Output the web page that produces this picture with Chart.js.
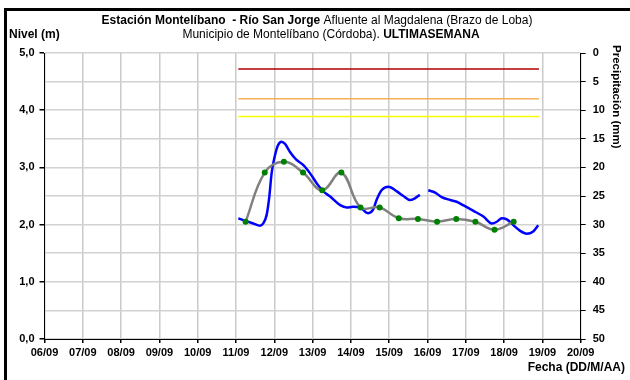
<!DOCTYPE html>
<html><head><meta charset="utf-8">
<script src="https://cdn.jsdelivr.net/npm/chart.js@4/dist/chart.umd.min.js"></script>
<style>html,body{margin:0;padding:0;background:#fff}#wrap{width:630px;height:380px;position:relative}canvas{display:block}</style>
</head><body><div id="wrap"><canvas id="c" width="630" height="380"></canvas></div>
<script>
// X values are days of September (06/09 .. 20/09)
const dayTicks = [6,7,8,9,10,11,12,13,14,15,16,17,18,19,20];
const levelTicks = [0,1,2,3,4,5];
const rainTicks = [0,5,10,15,20,25,30,35,40,45,50];

// Nivel (m) - blue series (null = gap in record)
const levelDays = [11.06,11.23,11.45,11.63,11.71,11.80,11.87,11.93,12.01,12.10,12.19,12.28,12.41,12.58,12.76,12.93,13.11,13.28,13.46,13.72,13.89,14.06,14.24,14.45,14.58,14.67,14.80,14.98,15.20,15.37,15.54,15.67,15.80,15.90,16.02,16.20,16.37,16.59,16.76,16.93,17.20,17.46,17.68,17.81,17.94,18.07,18.24,18.42,18.59,18.76,18.89];
const levelValues = [2.11,2.07,2.02,1.98,2.02,2.17,2.49,2.90,3.19,3.39,3.45,3.41,3.27,3.13,3.04,2.90,2.72,2.58,2.49,2.34,2.30,2.31,2.30,2.20,2.26,2.43,2.60,2.66,2.58,2.50,2.43,2.46,2.52,null,2.60,2.56,2.48,2.43,2.40,2.34,2.24,2.14,2.02,2.05,2.11,2.09,1.99,1.89,1.84,1.88,1.99];

// Lecturas (gray line, green markers)
const readDays = [11.25,11.75,12.25,12.75,13.25,13.75,14.25,14.75,15.25,15.75,16.25,16.75,17.25,17.75,18.25];
const readValues = [2.05,2.91,3.10,2.91,2.60,2.91,2.30,2.30,2.11,2.10,2.05,2.10,2.05,1.91,2.05];

// Umbrales
const thresholdDays = [11.06,18.91];
const thresholdRed = 4.72;
const thresholdOrange = 4.20;
const thresholdYellow = 3.89;

const pad2 = v => (v < 10 ? '0' : '') + v;
const pts = (xs, ys) => xs.map((x, i) => ({x: x, y: ys[i]}));
const FONT = "'Liberation Sans', Arial, sans-serif";

const decor = {
  id: 'decor',
  afterDraw(chart) {
    const ctx = chart.ctx;
    ctx.save();
    // outer frame (cropped at right/bottom)
    ctx.strokeStyle = '#000';
    ctx.lineWidth = 3;
    ctx.strokeRect(5.5, 9.5, 800, 600);
    ctx.fillStyle = '#000';
    ctx.textBaseline = 'middle';
    const drawMixed = (parts, cx, y, size) => {
      let total = 0;
      parts.forEach(p => { ctx.font = p[1] + ' ' + size + 'px ' + FONT; p.w = ctx.measureText(p[0]).width; total += p.w; });
      let x = cx - total / 2;
      ctx.textAlign = 'left';
      parts.forEach(p => { ctx.font = p[1] + ' ' + size + 'px ' + FONT; ctx.fillText(p[0], x, y); x += p.w; });
    };
    drawMixed([['Estación Montelíbano  - Río San Jorge', 'bold'], [' Afluente al Magdalena (Brazo de Loba)', 'normal']], 317, 21, 12);
    drawMixed([['Municipio de Montelíbano (Córdoba). ', 'normal'], ['ULTIMASEMANA', 'bold']], 331, 35, 12);
    ctx.font = 'bold 12px ' + FONT;
    ctx.textAlign = 'left';
    ctx.fillText('Nivel (m)', 9, 35);
    ctx.textAlign = 'right';
    ctx.fillText('Fecha (DD/M/AA)', 625, 368);
    // right axis title rotated
    ctx.font = 'bold 11.5px ' + FONT;
    ctx.translate(616, 45);
    ctx.rotate(Math.PI / 2);
    ctx.textAlign = 'left';
    ctx.fillText('Precipitación (mm)', 0, 0);
    ctx.restore();
  }
};

new Chart(document.getElementById('c'), {
  type: 'line',
  data: {
    datasets: [
      {data: pts(thresholdDays, [thresholdRed, thresholdRed]), borderColor: '#B00000', borderWidth: 1.5, pointRadius: 0, tension: 0, yAxisID: 'y', order: 5},
      {data: pts(thresholdDays, [thresholdOrange, thresholdOrange]), borderColor: '#F7B05A', borderWidth: 1.5, pointRadius: 0, tension: 0, yAxisID: 'y', order: 5},
      {data: pts(thresholdDays, [thresholdYellow, thresholdYellow]), borderColor: '#FFFF00', borderWidth: 1.5, pointRadius: 0, tension: 0, yAxisID: 'y', order: 5},
      {data: pts(levelDays, levelValues), borderColor: '#0000FF', borderWidth: 2.5, pointRadius: 0, cubicInterpolationMode: 'monotone', spanGaps: false, yAxisID: 'y', order: 3},
      {data: pts(readDays, readValues), borderColor: '#808080', borderWidth: 2.5, pointRadius: 3, pointBackgroundColor: '#008000', pointBorderColor: '#008000', pointBorderWidth: 0, tension: 0.4, yAxisID: 'y', order: 1}
    ]
  },
  options: {
    responsive: false,
    animation: false,
    devicePixelRatio: 1,
    layout: {padding: {top: 53, left: 0, right: 0, bottom: 0}},
    plugins: {legend: {display: false}, tooltip: {enabled: false}, title: {display: false}},
    scales: {
      x: {
        type: 'linear', min: dayTicks[0], max: dayTicks[dayTicks.length - 1], position: 'bottom',
        afterBuildTicks: s => { s.ticks = dayTicks.map(v => ({value: v})); },
        ticks: {callback: v => pad2(v) + '/09', autoSkip: false, maxRotation: 0, font: {family: FONT, size: 11, weight: 'bold'}, color: '#000', padding: 3},
        grid: {color: '#cacaca', lineWidth: 1.5, tickColor: '#000', tickLength: 4},
        border: {color: '#000', width: 1},
        afterFit: s => { s.height = 41; }
      },
      y: {
        position: 'left', min: 0, max: 5,
        afterBuildTicks: s => { const t = []; for (let i = 0; i <= 10; i++) t.push({value: i / 2}); s.ticks = t; },
        ticks: {callback: v => (levelTicks.includes(v) ? v.toFixed(1).replace('.', ',') : ''), autoSkip: false, font: {family: FONT, size: 11, weight: 'bold'}, color: '#000', padding: 5},
        grid: {color: '#d2d2d2', lineWidth: 1.5, tickColor: c => (levelTicks.includes(c.tick.value) ? '#000' : 'rgba(0,0,0,0)'), tickLength: 5},
        border: {color: '#000', width: 1},
        afterFit: s => { s.width = 44.5; }
      },
      y1: {
        position: 'right', reverse: true, min: 0, max: 50,
        afterBuildTicks: s => { s.ticks = rainTicks.map(v => ({value: v})); },
        ticks: {autoSkip: false, font: {family: FONT, size: 11, weight: 'bold'}, color: '#000', padding: 7},
        grid: {drawOnChartArea: false, tickColor: '#000', tickLength: 5},
        border: {color: '#000', width: 1},
        afterFit: s => { s.width = 49.3; }
      }
    }
  },
  plugins: [decor]
});
</script></body></html>
